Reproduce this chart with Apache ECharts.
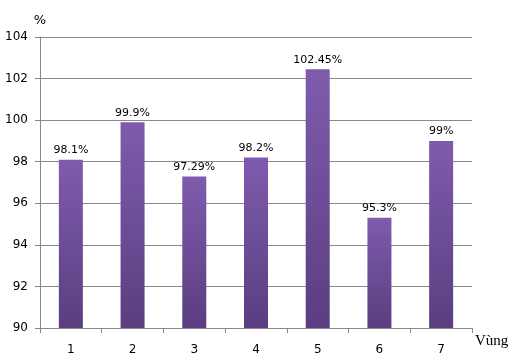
<!DOCTYPE html>
<html><head><meta charset="utf-8">
<script src="https://cdn.jsdelivr.net/npm/echarts@6/dist/echarts.min.js"></script>
<style>html,body{margin:0;padding:0;background:#fff}#c{width:525px;height:361px}</style>
</head><body><div id="c"></div>
<script>
var categories = ['1','2','3','4','5','6','7'];
var values = [98.1, 99.9, 97.29, 98.2, 102.45, 95.3, 99];
var labels = ['98.1%','99.9%','97.29%','98.2%','102.45%','95.3%','99%'];
var yTicks = [90, 92, 94, 96, 98, 100, 102, 104];

var chart = echarts.init(document.getElementById('c'), null, {renderer:'canvas'});
var font = 'Tahoma, "DejaVu Sans", sans-serif';
chart.setOption({
  animation: false,
  grid: {left: 40, right: 53, top: 37, bottom: 33, containLabel: false},
  xAxis: {
    type: 'category', data: categories,
    name: 'Vùng', nameLocation: 'end', nameGap: 3,
    nameTextStyle: {fontFamily: '"Liberation Serif", "DejaVu Serif", serif', fontSize: 15, color: '#000', verticalAlign: 'top', padding: [6, 0, 0, 0]},
    axisLine: {lineStyle: {color: '#888', width: 1}},
    axisTick: {show: true, alignWithLabel: false, length: 5, lineStyle: {color: '#888'}},
    axisLabel: {color: '#000', fontSize: 12, fontFamily: font, margin: 16}
  },
  yAxis: {
    type: 'value', min: yTicks[0], max: yTicks[yTicks.length-1], interval: 2,
    name: '%', nameLocation: 'end', nameGap: 10,
    nameTextStyle: {color: '#000', fontSize: 13, fontFamily: font, align: 'center'},
    axisLine: {show: true, lineStyle: {color: '#888', width: 1}},
    axisTick: {show: true, length: 5, inside: false, lineStyle: {color: '#888'}},
    splitLine: {lineStyle: {color: '#888', width: 1}},
    axisLabel: {color: '#000', fontSize: 12, fontFamily: font, margin: 12}
  },
  series: [{
    type: 'bar', data: values, barWidth: 24,
    itemStyle: {color: new echarts.graphic.LinearGradient(0,0,0,1,[{offset:0,color:'#7f5bad'},{offset:1,color:'#5a3e80'}])},
    label: {show: true, position: 'top', distance: 4, color: '#000', fontSize: 11, fontFamily: font,
      formatter: function(p){ return labels[p.dataIndex]; }}
  }]
});
</script></body></html>
